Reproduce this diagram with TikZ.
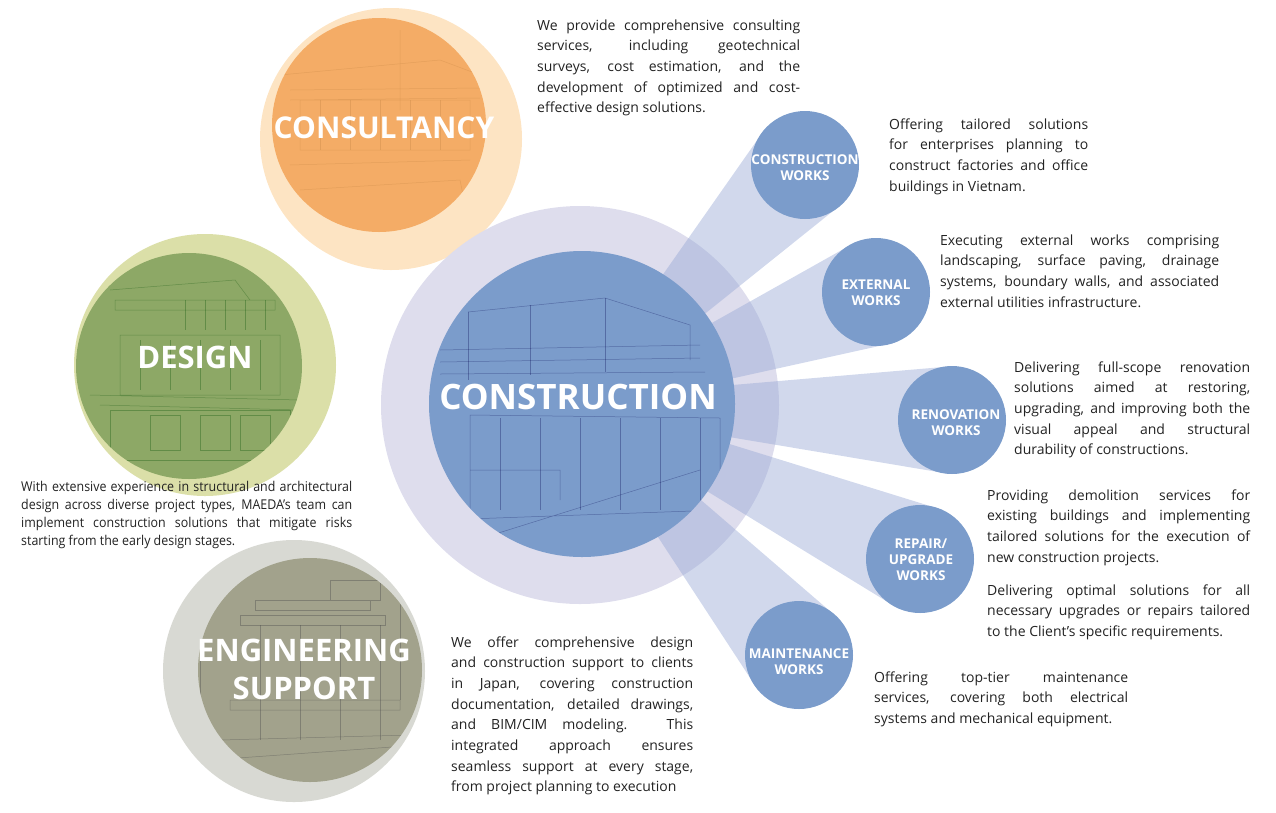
\documentclass[tikz,border=0pt]{standalone}
\usepackage{fontspec}
\setmainfont{Open Sans}
\newfontfamily\narrowfont{Open Sans}[FakeStretch=0.92]
\usetikzlibrary{calc}
\definecolor{ringc}{RGB}{222,221,237}
\definecolor{bluec}{RGB}{123,156,203}
\definecolor{beamc}{RGB}{152,169,213}
\definecolor{orangec}{RGB}{244,172,102}
\definecolor{orangep}{RGB}{253,228,195}
\definecolor{greenc}{RGB}{141,168,102}
\definecolor{greenp}{RGB}{219,223,168}
\definecolor{olivec}{RGB}{162,162,140}
\definecolor{olivep}{RGB}{216,217,211}
\definecolor{textc}{RGB}{34,34,34}
\hyphenpenalty=10000
\tolerance=9999

\begin{document}
\begin{tikzpicture}[x=1pt,y=-1pt,
    disc/.style={circle,inner sep=0pt,minimum size=#1},
    title/.style={text=white,inner sep=0pt,align=center,font=\bfseries\fontsize{#1}{38}\selectfont},
    work/.style={disc=108pt,fill=bluec},
    worklabel/.style={text=white,inner sep=0pt,align=center,font=\bfseries\fontsize{13.5}{16}\selectfont},
    blurb/.style={anchor=base west,inner sep=0pt,align=justify,text=textc,font=\fontsize{14}{20.7}\selectfont},
    beam/.style={fill=beamc,fill opacity=.45},
    sketch/.style={line width=.5pt,draw opacity=.3}]
\useasboundingbox (0,0) rectangle (1276,812);

% pale rings
\node[disc=262pt,fill=orangep] (consout) at (391,139) {};
\node[disc=262pt,fill=greenp] (desout) at (205,365) {};
\node[disc=262pt,fill=olivep] (engout) at (294,671) {};
\node[disc=398pt,fill=ringc] (conout) at (580,405) {};

% consultancy
\node[disc=214pt,fill=orangec] (consin) at (379,125) {};
\begin{scope}
  \clip (consin) circle (107);
  \draw[sketch,brown] (280,75) -- (440,60) -- (480,75) (400,30) -- (400,110);
  \draw[sketch,brown] (290,90) -- (480,88) (290,100) -- (480,98) (300,100) rectangle (470,150);
  \foreach \i in {320,350,...,460} \draw[sketch,brown] (\i,100) -- (\i,150);
  \draw[sketch,brown] (290,165) -- (470,160) (300,190) -- (460,180) -- (470,230);
\end{scope}
\node[title=30] (tcons) at (384,128) {CONSULTANCY};

% design
\node[disc=226pt,fill=greenc] (desin) at (189,366) {};
\begin{scope}
  \clip (desin) circle (113);
  \draw[sketch,green!30!black] (110,290) -- (235,280) -- (250,300) (115,300) rectangle (275,310);
  \foreach \i in {185,205,...,265} \draw[sketch,green!30!black] (\i,300) -- (\i,330);
  \draw[sketch,green!30!black] (120,335) rectangle (280,395) (90,395) -- (300,400) (100,405) -- (300,410);
  \foreach \i in {140,170,...,260} \draw[sketch,green!30!black] (\i,340) -- (\i,390);
  \draw[sketch,green!30!black] (110,410) rectangle (290,460);
  \foreach \i in {150,200,240} \draw[sketch,green!30!black] (\i,415) rectangle (\i+30,450);
\end{scope}
\node[title=31] (tdes) at (195,357) {DESIGN};

% engineering support
\node[disc=224pt,fill=olivec] (engin) at (310,670) {};
\begin{scope}
  \clip (engin) circle (112);
  \draw[sketch,black!70,draw opacity=.4] (255,600) rectangle (370,610) (240,615) rectangle (385,625) (330,580) rectangle (380,600);
  \foreach \i in {260,300,340,380} \draw[sketch,black!70,draw opacity=.4] (\i,625) -- (\i,740);
  \draw[sketch,black!70,draw opacity=.4] (230,700) rectangle (400,710) (220,740) -- (410,735) (210,760) -- (420,745);
  \draw[sketch,black!70,draw opacity=.4] (200,640) -- (200,730) (400,590) -- (400,700);
\end{scope}
\node[title=31] (teng) at (304,669) {ENGINEERING\\SUPPORT};

% beams to the works
\coordinate (pcw) at (805,165);
\coordinate (pext) at (876,292);
\coordinate (preno) at (952,420);
\coordinate (prep) at (920,559);
\coordinate (pmnt) at (799,655);
\foreach \w in {pcw,pext,preno,prep,pmnt}
  \fill[beam] ($(conout)!7pt!90:(\w)$) -- ($(\w)!54pt!-90:(conout)$)
    -- ($(\w)!54pt!90:(conout)$) -- ($(conout)!7pt!-90:(\w)$) -- cycle;

% construction
\node[disc=306pt,fill=bluec] (conin) at (582,404) {};
\begin{scope}
  \clip (conin) circle (153);
  \draw[sketch,blue!30!black] (468,312) -- (605,298) -- (690,325) -- (690,360);
  \draw[sketch,blue!30!black] (468,312) -- (468,380) (530,305) -- (530,375) (605,298) -- (605,372);
  \draw[sketch,blue!30!black] (440,350) -- (700,345) (440,362) -- (700,358) (440,374) -- (705,372);
  \draw[sketch,blue!30!black] (470,520) -- (470,415) -- (720,418) -- (720,520);
  \foreach \i in {500,540,...,700} \draw[sketch,blue!30!black] (\i,418) -- (\i,510);
  \draw[sketch,blue!30!black] (440,520) -- (720,510) (460,545) -- (700,470) (470,470) -- (560,470) -- (560,500);
\end{scope}
\node[title=35] (tcon) at (578,397) {CONSTRUCTION};

% works
\node[work] (cw) at (pcw) {};
\node[work] (ext) at (pext) {};
\node[work] (reno) at (preno) {};
\node[work] (rep) at (prep) {};
\node[work] (mnt) at (pmnt) {};
\node[worklabel] (lcw) at ($(cw)+(0,3)$) {CONSTRUCTION\\WORKS};
\node[worklabel] (lext) at ($(ext)+(0,1)$) {EXTERNAL\\WORKS};
\node[worklabel] (lreno) at ($(reno)+(4,3)$) {RENOVATION\\WORKS};
\node[worklabel] (lrep) at ($(rep)+(1,1)$) {REPAIR/\\UPGRADE\\WORKS};
\node[worklabel] (lmnt) at ($(mnt)+(0,7)$) {MAINTENANCE\\WORKS};

% texts
\node[blurb,text width=263pt] (xcons) at (537,30) {We provide comprehensive consulting\linebreak
  services, including geotechnical\linebreak surveys, cost estimation, and the\linebreak
  development of optimized and cost-\linebreak effective design solutions.};
\node[blurb,text width=199pt] (xcw) at (889,129) {Offering tailored solutions\linebreak
  for enterprises planning to\linebreak construct factories and office\linebreak buildings in Vietnam.};
\node[blurb,text width=279pt] (xext) at (940,245) {Executing external works comprising\linebreak
  landscaping, surface paving, drainage\linebreak systems, boundary walls, and associated\linebreak
  external utilities infrastructure.};
\node[blurb,text width=236pt] (xreno) at (1014,372) {Delivering full-scope renovation\linebreak
  solutions aimed at restoring,\linebreak upgrading, and improving both the\linebreak
  visual appeal and structural\linebreak durability of constructions.};
\node[blurb,text width=263pt] (xrep) at (987,500) {Providing demolition services for\linebreak
  existing buildings and implementing\linebreak tailored solutions for the execution of\linebreak
  new construction projects.};
\node[blurb,text width=263pt] (xupg) at (987,595) {Delivering optimal solutions for all\linebreak
  necessary upgrades or repairs tailored\linebreak to the Client’s specific requirements.};
\node[blurb,text width=254pt] (xmnt) at (874,682) {Offering top-tier maintenance\linebreak
  services, covering both electrical\linebreak systems and mechanical equipment.};
\node[blurb,text width=242pt] (xeng) at (451,647) {We offer comprehensive design\linebreak
  and construction support to clients\linebreak in Japan, covering construction\linebreak
  documentation, detailed drawings,\linebreak and BIM/CIM modeling. This\linebreak
  integrated approach ensures\linebreak seamless support at every stage,\linebreak
  from project planning to execution};
\node[blurb,text width=331pt,font=\narrowfont\fontsize{13.5}{18.2}\selectfont] (xdes) at (21,491)
  {With extensive experience in structural and architectural\linebreak
  design across diverse project types, MAEDA’s team can\linebreak
  implement construction solutions that mitigate risks\linebreak
  starting from the early design stages.};
\end{tikzpicture}
\end{document}
